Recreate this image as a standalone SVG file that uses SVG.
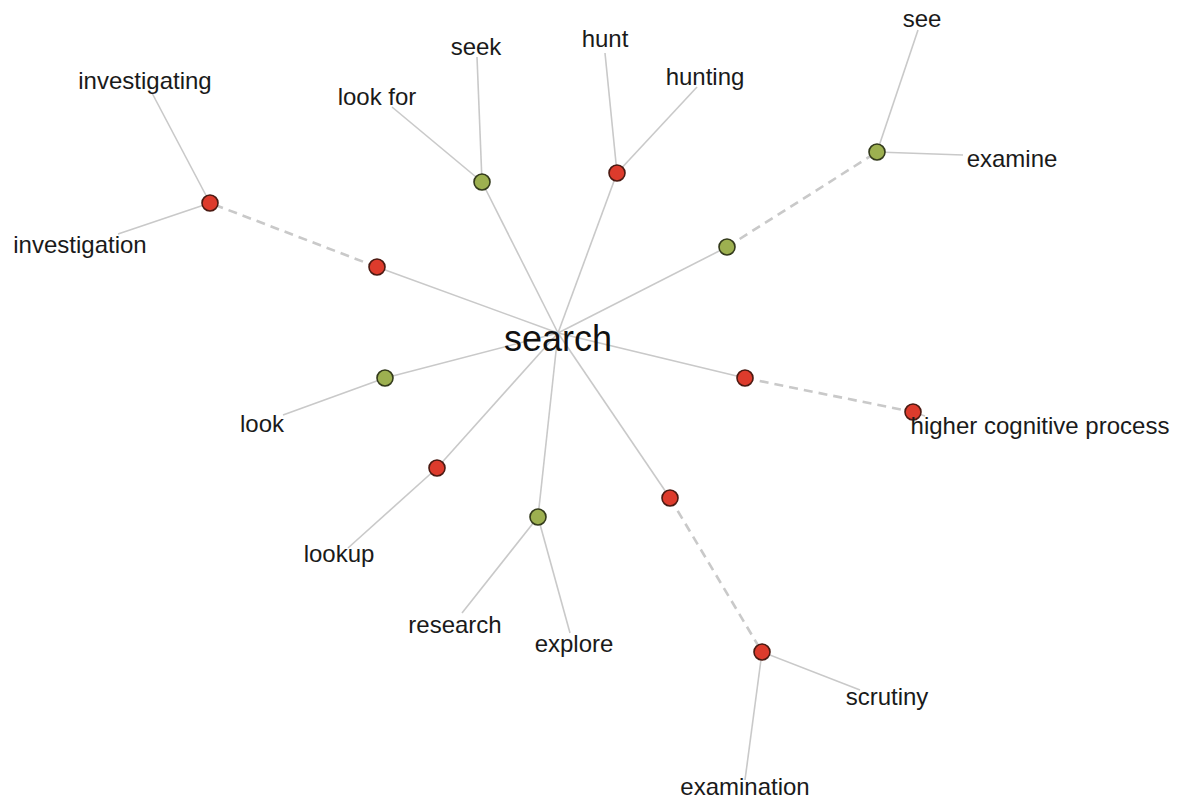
<svg xmlns="http://www.w3.org/2000/svg" width="1182" height="800" viewBox="0 0 1182 800">
<style>
.e{stroke:#c9c9c9;stroke-width:1.6;fill:none}
.d{stroke:#c9c9c9;stroke-width:2.6;fill:none;stroke-dasharray:9 6}
.r{fill:#dd3b2c;stroke:#4a1a12;stroke-width:1.6}
.g{fill:#9db050;stroke:#333a1c;stroke-width:1.6}
.t{font-family:"Liberation Sans",Arial,sans-serif;font-size:24px;fill:#1a1a1a;text-anchor:middle}
.h{font-family:"Liberation Sans",Arial,sans-serif;font-size:36px;fill:#111;text-anchor:middle}
</style>
<rect width="1182" height="800" fill="#fff"/>
<g id="connectors">
<line class="e" x1="558" y1="333" x2="377" y2="267"/>
<line class="d" x1="377" y1="267" x2="210" y2="203"/>
<line class="e" x1="210" y1="203" x2="152" y2="93"/>
<line class="e" x1="210" y1="203" x2="118" y2="234"/>
<line class="e" x1="558" y1="333" x2="482" y2="182"/>
<line class="e" x1="482" y1="182" x2="477" y2="57"/>
<line class="e" x1="482" y1="182" x2="392" y2="107"/>
<line class="e" x1="558" y1="333" x2="617" y2="173"/>
<line class="e" x1="617" y1="173" x2="605" y2="53"/>
<line class="e" x1="617" y1="173" x2="697" y2="87"/>
<line class="e" x1="558" y1="333" x2="727" y2="247"/>
<line class="d" x1="727" y1="247" x2="877" y2="152"/>
<line class="e" x1="877" y1="152" x2="918" y2="30"/>
<line class="e" x1="877" y1="152" x2="963" y2="155"/>
<line class="e" x1="558" y1="333" x2="745" y2="378"/>
<line class="d" x1="745" y1="378" x2="913" y2="412"/>
<line class="e" x1="913" y1="412" x2="925" y2="416"/>
<line class="e" x1="558" y1="333" x2="385" y2="378"/>
<line class="e" x1="385" y1="378" x2="283" y2="415"/>
<line class="e" x1="558" y1="333" x2="437" y2="468"/>
<line class="e" x1="437" y1="468" x2="348" y2="548"/>
<line class="e" x1="558" y1="333" x2="538" y2="517"/>
<line class="e" x1="538" y1="517" x2="462" y2="613"/>
<line class="e" x1="538" y1="517" x2="570" y2="633"/>
<line class="e" x1="558" y1="333" x2="670" y2="498"/>
<line class="d" x1="670" y1="498" x2="762" y2="652"/>
<line class="e" x1="762" y1="652" x2="860" y2="690"/>
<line class="e" x1="762" y1="652" x2="745" y2="780"/>
</g>
<g id="n-search"><text class="h" x="558" y="351">search</text></g>
<g id="n-r1"><circle class="r" cx="377" cy="267" r="8"/></g>
<g id="n-r2"><circle class="r" cx="210" cy="203" r="8"/></g>
<g id="n-investigating"><text class="t" x="145" y="89">investigating</text></g>
<g id="n-investigation"><text class="t" x="80" y="253">investigation</text></g>
<g id="n-g1"><circle class="g" cx="482" cy="182" r="8"/></g>
<g id="n-seek"><text class="t" x="476" y="55">seek</text></g>
<g id="n-lookfor"><text class="t" x="377" y="105">look for</text></g>
<g id="n-r3"><circle class="r" cx="617" cy="173" r="8"/></g>
<g id="n-hunt"><text class="t" x="605" y="47">hunt</text></g>
<g id="n-hunting"><text class="t" x="705" y="85">hunting</text></g>
<g id="n-g2"><circle class="g" cx="727" cy="247" r="8"/></g>
<g id="n-g3"><circle class="g" cx="877" cy="152" r="8"/></g>
<g id="n-see"><text class="t" x="922" y="27">see</text></g>
<g id="n-examine"><text class="t" x="1012" y="167">examine</text></g>
<g id="n-r4"><circle class="r" cx="745" cy="378" r="8"/></g>
<g id="n-r5"><circle class="r" cx="913" cy="412" r="8"/></g>
<g id="n-hcp"><text class="t" x="1040" y="434">higher cognitive process</text></g>
<g id="n-g4"><circle class="g" cx="385" cy="378" r="8"/></g>
<g id="n-look"><text class="t" x="262" y="432">look</text></g>
<g id="n-r6"><circle class="r" cx="437" cy="468" r="8"/></g>
<g id="n-lookup"><text class="t" x="339" y="562">lookup</text></g>
<g id="n-g5"><circle class="g" cx="538" cy="517" r="8"/></g>
<g id="n-research"><text class="t" x="455" y="633">research</text></g>
<g id="n-explore"><text class="t" x="574" y="652">explore</text></g>
<g id="n-r7"><circle class="r" cx="670" cy="498" r="8"/></g>
<g id="n-r8"><circle class="r" cx="762" cy="652" r="8"/></g>
<g id="n-scrutiny"><text class="t" x="887" y="705">scrutiny</text></g>
<g id="n-examination"><text class="t" x="745" y="795">examination</text></g>
</svg>
